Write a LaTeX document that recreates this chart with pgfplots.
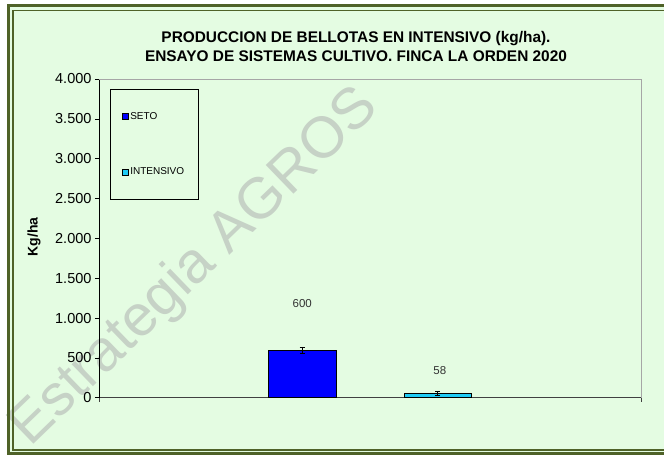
\documentclass[border=0pt]{standalone}
\usepackage{fontspec}
\setmainfont{Liberation Sans}
\usepackage{pgfplots}
\pgfplotsset{compat=1.18}
\definecolor{bg}{HTML}{E4FCE2}
\definecolor{framec}{HTML}{4F6228}
\definecolor{seto}{HTML}{0000FF}
\definecolor{intens}{HTML}{1ECBF5}
\definecolor{wm}{RGB}{198,210,198}
\begin{document}
\begin{tikzpicture}[x=1pt,y=1pt]
\useasboundingbox (0,0) rectangle (664,457);
\fill[white] (0,0) rectangle (664,457);
\fill[bg] (7,3) rectangle (700,452);
% watermark
\node[rotate=44, text=wm, font=\fontsize{58}{58}\selectfont, inner sep=0pt] at (195,189) {Estrategia AGROS};
\draw[framec, line width=2.8pt] (8.5,3.3) rectangle (720,451.7);
\draw[framec, line width=1.5pt] (12.8,6.8) rectangle (720,446.4);
% title
\node[font=\bfseries\fontsize{15.4}{19.5}\selectfont, align=center, anchor=base] at (356,395) {PRODUCCION DE BELLOTAS EN INTENSIVO (kg/ha).\\ENSAYO DE SISTEMAS CULTIVO. FINCA LA ORDEN 2020};
\begin{axis}[
  at={(99pt,59.3pt)}, anchor=origin,
  scale only axis, width=542pt, height=318.7pt,
  xmin=0, xmax=8, ymin=0, ymax=4000,
  axis x line*=bottom, axis y line*=left,
  x axis line style={draw=black!75, line width=0.9pt, -},
  y axis line style={draw=black, line width=0.6pt, -},
  xtick={0,8}, xticklabels={},
  x tick style={draw=black!75, line width=0.8pt},
  major tick length=4pt,
  tick align=outside,
  ytick={0,500,...,4000},
  y tick style={draw=black, line width=0.6pt},
  scaled y ticks=false,
  yticklabel style={/pgf/number format/.cd, fixed, 1000 sep={.}, assume math mode=true},
  tick label style={font=\fontsize{14.5}{15}\selectfont},
  ylabel={Kg/ha},
  every axis y label/.style={at={(rel axis cs:-0.12,0.504)}, rotate=90, anchor=center, font=\bfseries\fontsize{14}{15}\selectfont},
  bar width=1,
  legend style={at={(rel axis cs:0.0203,0.969)}, anchor=north west, draw=black, line width=0.6pt, fill=none,
    font=\fontsize{10}{12}\selectfont, inner xsep=12pt, inner ysep=21pt, row sep=43pt},
  legend cell align=left,
  legend image code/.code={\draw[#1, draw=black, line width=0.4pt] (0pt,-2.8pt) rectangle (5.6pt,2.8pt);},
  clip=false,
]
\addplot[ybar, fill=seto, draw=black, line width=0.6pt,
  error bars/.cd, y dir=both, y explicit, error bar style={black, line width=0.6pt}, error mark options={black, rotate=90, mark size=2.5pt, line width=0.6pt}]
  coordinates {(3,600) +- (0,38)};
\addlegendentry{SETO}
\addplot[ybar, fill=intens, draw=black, line width=0.6pt,
  error bars/.cd, y dir=both, y explicit, error bar style={black, line width=0.6pt}, error mark options={black, rotate=90, mark size=2.5pt, line width=0.6pt}]
  coordinates {(5,58) +- (0,25)};
\addlegendentry{INTENSIVO}
\draw[black!35, line width=0.9pt] (rel axis cs:0,1) -- (rel axis cs:1,1) -- (rel axis cs:1,0);
\node[font=\fontsize{11.5}{12}\selectfont, text=black!80] at (axis cs:3,1188) {600};
\node[font=\fontsize{11.5}{12}\selectfont, text=black!80] at (axis cs:5.03,335) {58};
\end{axis}
\end{tikzpicture}
\end{document}
